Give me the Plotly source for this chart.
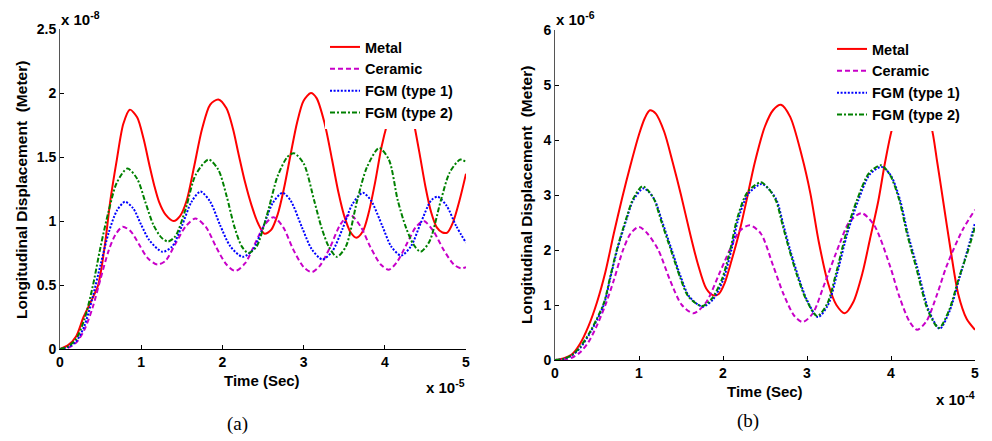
import plotly.graph_objects as go

# ---------------- Panel (a): time in 1e-5 s, displacement in 1e-8 m ----------------
a_metal_t = [0, 0.1, 0.2, 0.29, 0.38, 0.47, 0.55, 0.62, 0.7, 0.78, 0.86, 0.95, 1.03, 1.1, 1.16, 1.22, 1.3, 1.4, 1.48, 1.56, 1.65, 1.75, 1.85, 1.95, 2.05, 2.13, 2.2, 2.28, 2.36, 2.44, 2.52, 2.6, 2.68, 2.76, 2.84, 2.92, 3.0, 3.09, 3.16, 3.26, 3.35, 3.43, 3.5, 3.58, 3.65, 3.73, 3.8, 3.88, 3.96, 4.03, 4.1, 4.2, 4.3, 4.36, 4.43, 4.5, 4.57, 4.64, 4.71, 4.77, 4.84, 4.92, 5.0]
a_metal_y = [0, 0.03, 0.1, 0.25, 0.37, 0.5, 0.8, 1.16, 1.48, 1.76, 1.87, 1.81, 1.64, 1.44, 1.28, 1.15, 1.05, 1.0, 1.04, 1.16, 1.42, 1.72, 1.91, 1.95, 1.88, 1.72, 1.52, 1.3, 1.12, 0.98, 0.9, 0.93, 1.05, 1.26, 1.52, 1.77, 1.94, 2.0, 1.96, 1.76, 1.48, 1.22, 1.04, 0.91, 0.87, 0.92, 1.06, 1.3, 1.58, 1.76, 1.9, 2.0, 1.93, 1.76, 1.52, 1.27, 1.07, 0.95, 0.91, 0.91, 0.99, 1.16, 1.37]

a_ceramic_t = [0, 0.1, 0.2, 0.3, 0.4, 0.5, 0.6, 0.68, 0.77, 0.87, 0.98, 1.08, 1.2, 1.3, 1.42, 1.55, 1.67, 1.8, 1.92, 2.05, 2.16, 2.28, 2.4, 2.52, 2.63, 2.75, 2.87, 3.0, 3.1, 3.2, 3.33, 3.45, 3.57, 3.7, 3.82, 3.95, 4.05, 4.15, 4.27, 4.38, 4.48, 4.6, 4.72, 4.85, 4.94, 5.0]
a_ceramic_y = [0, 0.01, 0.05, 0.15, 0.32, 0.55, 0.77, 0.89, 0.955, 0.92, 0.81, 0.71, 0.66, 0.69, 0.82, 0.96, 1.02, 0.95, 0.8, 0.66, 0.61, 0.67, 0.82, 0.97, 1.03, 0.95, 0.78, 0.64, 0.6, 0.65, 0.8, 0.97, 1.05, 0.96, 0.8, 0.66, 0.62, 0.68, 0.82, 0.95, 1.0, 0.92, 0.78, 0.66, 0.63, 0.64]

a_fgm1_t = [0, 0.1, 0.2, 0.3, 0.4, 0.5, 0.6, 0.7, 0.8, 0.9, 1.0, 1.1, 1.26, 1.38, 1.5, 1.62, 1.73, 1.85, 1.97, 2.1, 2.25, 2.37, 2.5, 2.62, 2.74, 2.84, 2.98, 3.1, 3.23, 3.35, 3.48, 3.6, 3.73, 3.83, 3.97, 4.08, 4.2, 4.32, 4.44, 4.57, 4.65, 4.76, 4.88, 5.0]
a_fgm1_y = [0, 0.015, 0.06, 0.18, 0.4, 0.66, 0.91, 1.08, 1.15, 1.1, 0.97, 0.85, 0.76, 0.8, 0.96, 1.15, 1.23, 1.15, 0.97, 0.8, 0.72, 0.77, 0.95, 1.14, 1.22, 1.16, 0.95, 0.78, 0.7, 0.76, 0.94, 1.13, 1.22, 1.16, 0.96, 0.8, 0.73, 0.8, 0.98, 1.16, 1.19, 1.12, 0.96, 0.83]

a_fgm2_t = [0, 0.1, 0.2, 0.3, 0.4, 0.5, 0.6, 0.7, 0.83, 0.95, 1.05, 1.15, 1.25, 1.33, 1.42, 1.55, 1.67, 1.83, 1.95, 2.05, 2.15, 2.24, 2.32, 2.42, 2.55, 2.68, 2.8, 2.88, 3.0, 3.13, 3.22, 3.31, 3.41, 3.52, 3.66, 3.78, 3.93, 4.05, 4.16, 4.26, 4.35, 4.44, 4.55, 4.69, 4.8, 4.93, 5.0]
a_fgm2_y = [0, 0.02, 0.08, 0.23, 0.48, 0.8, 1.08, 1.3, 1.41, 1.33, 1.15, 0.97, 0.87, 0.84, 0.88, 1.1, 1.36, 1.48, 1.4, 1.2, 0.95, 0.8, 0.75, 0.8, 1.05, 1.35, 1.5, 1.53, 1.45, 1.16, 0.95, 0.8, 0.72, 0.8, 1.16, 1.42, 1.57, 1.48, 1.16, 0.95, 0.82, 0.76, 0.84, 1.16, 1.38, 1.48, 1.46]

# ---------------- Panel (b): time in 1e-4 s, displacement in 1e-6 m ----------------
b_metal_t = [0, 0.1, 0.2, 0.3, 0.4, 0.5, 0.6, 0.7, 0.8, 0.9, 1.0, 1.07, 1.13, 1.2, 1.3, 1.4, 1.5, 1.6, 1.7, 1.8, 1.88, 1.95, 2.02, 2.1, 2.2, 2.28, 2.38, 2.5, 2.6, 2.69, 2.8, 2.94, 3.04, 3.14, 3.25, 3.35, 3.45, 3.55, 3.66, 3.75, 3.85, 3.93, 4.02, 4.12, 4.25, 4.38, 4.48, 4.55, 4.62, 4.71, 4.8, 4.9, 5.0]
b_metal_y = [0, 0.03, 0.1, 0.3, 0.62, 1.05, 1.6, 2.3, 2.95, 3.55, 4.1, 4.4, 4.54, 4.48, 4.15, 3.6, 3.0, 2.35, 1.75, 1.3, 1.18, 1.2, 1.4, 1.8, 2.36, 2.9, 3.6, 4.25, 4.55, 4.64, 4.42, 3.7, 3.03, 2.15, 1.4, 1.0, 0.85, 1.05, 1.58, 2.2, 2.9, 3.6, 4.24, 4.6, 4.75, 4.6, 4.24, 3.6, 2.9, 2.0, 1.2, 0.75, 0.55]

b_ceramic_t = [0, 0.1, 0.2, 0.3, 0.4, 0.5, 0.6, 0.7, 0.81, 0.9, 1.0, 1.1, 1.23, 1.37, 1.51, 1.65, 1.8, 1.95, 2.08, 2.2, 2.32, 2.45, 2.6, 2.72, 2.85, 2.95, 3.07, 3.2, 3.39, 3.5, 3.65, 3.8, 3.99, 4.1, 4.22, 4.31, 4.42, 4.55, 4.66, 4.85, 5.0]
b_ceramic_y = [0, 0.01, 0.04, 0.14, 0.33, 0.63, 1.0, 1.45, 2.0, 2.3, 2.42, 2.3, 2.0, 1.45, 1.0, 0.85, 1.05, 1.55, 2.0, 2.35, 2.45, 2.3, 1.7, 1.2, 0.8, 0.69, 0.85, 1.35, 2.12, 2.5, 2.67, 2.45, 1.7, 1.15, 0.7, 0.55, 0.7, 1.2, 1.7, 2.36, 2.73]

b_fgm1_t = [0, 0.1, 0.2, 0.3, 0.42, 0.58, 0.66, 0.74, 0.85, 0.93, 1.05, 1.12, 1.19, 1.28, 1.39, 1.5, 1.6, 1.76, 1.88, 2.0, 2.1, 2.18, 2.3, 2.46, 2.55, 2.64, 2.72, 2.8, 2.9, 3.0, 3.13, 3.25, 3.36, 3.48, 3.61, 3.75, 3.89, 4.0, 4.11, 4.2, 4.31, 4.45, 4.58, 4.7, 4.82, 4.92, 5.0]
b_fgm1_y = [0, 0.02, 0.08, 0.22, 0.5, 1.0, 1.5, 2.0, 2.55, 2.9, 3.12, 3.05, 2.9, 2.5, 2.0, 1.5, 1.15, 0.97, 1.1, 1.45, 2.0, 2.55, 3.02, 3.2, 3.1, 2.9, 2.45, 2.0, 1.5, 1.09, 0.78, 1.0, 1.58, 2.3, 2.9, 3.38, 3.51, 3.35, 2.9, 2.3, 1.7, 0.9, 0.57, 0.9, 1.52, 2.05, 2.49]

b_fgm2_t = [0, 0.1, 0.2, 0.3, 0.42, 0.58, 0.66, 0.74, 0.85, 0.93, 1.04, 1.11, 1.18, 1.27, 1.38, 1.49, 1.59, 1.75, 1.87, 1.99, 2.09, 2.17, 2.29, 2.45, 2.54, 2.63, 2.71, 2.79, 2.89, 2.99, 3.12, 3.24, 3.35, 3.47, 3.6, 3.74, 3.88, 3.99, 4.1, 4.19, 4.3, 4.44, 4.57, 4.69, 4.81, 4.92, 5.0]
b_fgm2_y = [0, 0.02, 0.09, 0.24, 0.52, 1.03, 1.53, 2.03, 2.58, 2.93, 3.16, 3.08, 2.92, 2.5, 2.0, 1.5, 1.15, 0.98, 1.12, 1.48, 2.03, 2.58, 3.05, 3.23, 3.12, 2.9, 2.45, 2.0, 1.5, 1.1, 0.8, 1.02, 1.6, 2.33, 2.93, 3.4, 3.54, 3.36, 2.9, 2.3, 1.68, 0.9, 0.58, 0.9, 1.5, 2.0, 2.42]

series_names = ["Metal", "Ceramic", "FGM (type 1)", "FGM (type 2)"]
colors = ["#ff0000", "#c800c8", "#0000ff", "#008000"]
dashes = ["solid", "5px,3px", "2px,1.6px", "5px,2px,2px,2px"]

FONT = "Arial, Liberation Sans, sans-serif"

fig = go.Figure()

panel_a = [(a_metal_t, a_metal_y), (a_ceramic_t, a_ceramic_y), (a_fgm1_t, a_fgm1_y), (a_fgm2_t, a_fgm2_y)]
panel_b = [(b_metal_t, b_metal_y), (b_ceramic_t, b_ceramic_y), (b_fgm1_t, b_fgm1_y), (b_fgm2_t, b_fgm2_y)]

for i, (t, y) in enumerate(panel_a):
    fig.add_trace(go.Scatter(x=t, y=y, mode="lines", name=series_names[i],
                             line=dict(color=colors[i], width=2, dash=dashes[i], shape="spline", smoothing=0.8),
                             xaxis="x", yaxis="y", legend="legend"))
for i, (t, y) in enumerate(panel_b):
    fig.add_trace(go.Scatter(x=t, y=y, mode="lines", name=series_names[i],
                             line=dict(color=colors[i], width=2, dash=dashes[i], shape="spline", smoothing=0.8),
                             xaxis="x2", yaxis="y2", legend="legend2"))

W, H = 992, 441
OFF = 8  # page body margin: the figure is drawn 8px from the window's top-left
def px(x):
    return (x - OFF) / W
def py(y):
    return 1 - (y - OFF) / H

tickfont = dict(family=FONT, size=14, color="black", weight="bold")
common_x = dict(showgrid=False, zeroline=False, showline=True, linecolor="black", linewidth=1, automargin=False,
                ticks="inside", ticklen=4, tickcolor="black", tickfont=tickfont, mirror=False)
common_y = dict(showgrid=False, zeroline=False, showline=True, linecolor="#555555", linewidth=1, automargin=False,
                ticks="inside", ticklen=4, tickcolor="black", tickfont=tickfont, mirror=False)

legend_common = dict(bgcolor="white", borderwidth=0, font=dict(family=FONT, size=14.5, color="black", weight="bold"),
                     xanchor="left", yanchor="top", tracegroupgap=0)

fig.update_layout(
    width=W, height=H,
    margin=dict(l=0, r=0, t=0, b=0, autoexpand=False),
    paper_bgcolor="white", plot_bgcolor="white",
    xaxis=dict(domain=[px(60), px(466)], range=[0, 5], tickvals=[0, 1, 2, 3, 4, 5], anchor="y", **common_x),
    yaxis=dict(domain=[py(349), py(29)], range=[0, 2.5], tickvals=[0, 0.5, 1, 1.5, 2, 2.5],
               ticktext=["0", "0.5", "1", "1.5", "2", "2.5"], anchor="x", **common_y),
    xaxis2=dict(domain=[px(555), px(975)], range=[0, 5], tickvals=[0, 1, 2, 3, 4, 5], anchor="y2", **common_x),
    yaxis2=dict(domain=[py(360), py(30)], range=[0, 6], tickvals=[0, 1, 2, 3, 4, 5, 6], anchor="x2", **common_y),
    legend=dict(x=px(325), y=py(31), **legend_common),
    legend2=dict(x=px(832), y=py(33), **legend_common),
    showlegend=True,
)

bold15 = dict(family=FONT, size=15, color="black", weight="bold")
ytitle = dict(family=FONT, size=15.5, color="black", weight="bold")
ann = [
    # axis titles
    dict(x=px(262), y=py(380), text="Time (Sec)", font=bold15),
    dict(x=px(765), y=py(391), text="Time (Sec)", font=bold15),
    dict(x=px(21), y=py(190), text="Longitudinal Displacement  (Meter)", textangle=-90, font=ytitle),
    dict(x=px(527), y=py(195), text="Longitudinal Displacement  (Meter)", textangle=-90, font=ytitle),
    # exponent labels
    dict(x=px(59), y=py(19), xanchor="left", text="x 10<sup>-8</sup>", font=bold15),
    dict(x=px(554), y=py(19), xanchor="left", text="x 10<sup>-6</sup>", font=bold15),
    dict(x=px(467), y=py(386), xanchor="right", text="x 10<sup>-5</sup>", font=bold15),
    dict(x=px(977), y=py(398), xanchor="right", text="x 10<sup>-4</sup>", font=bold15),
    # captions
    dict(x=px(237), y=py(424), text="(a)", font=dict(family="Liberation Serif, Times New Roman, serif", size=19, color="black")),
    dict(x=px(748), y=py(421), text="(b)", font=dict(family="Liberation Serif, Times New Roman, serif", size=19, color="black")),
]
for a in ann:
    a.setdefault("xanchor", "center")
    a.update(xref="paper", yref="paper", showarrow=False, yanchor="middle")
fig.update_layout(annotations=ann)

fig.write_html("out.html")
